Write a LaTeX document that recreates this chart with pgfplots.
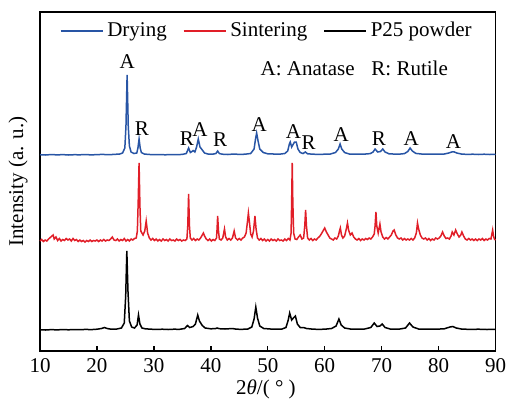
\documentclass[border=0pt]{standalone}
\usepackage{fontspec}
\setmainfont{Liberation Serif}
\usepackage{pgfplots}
\pgfplotsset{compat=1.18}
\definecolor{cblue}{RGB}{40,85,165}
\definecolor{cred}{RGB}{225,30,40}
\begin{document}
\fontsize{10.5}{12.6}\selectfont
\begin{tikzpicture}
\begin{axis}[
  scale only axis, width=227.75pt, height=169.5pt,
  xmin=10, xmax=90, ymin=0, ymax=339,
  xtick={10,20,...,90}, ytick=\empty,
  xtick pos=bottom, tick align=inside, major tick length=2.5pt,
  axis line style={line width=0.8pt}, every tick/.style={line width=0.7pt,black},
  /pgf/number format/assume math mode=true,
  xlabel={2\textit{θ}/( ° )},
  xlabel style={at={(axis description cs:0.496,-0.113)},anchor=center},
  ylabel={Intensity (a. u.)},
  ylabel style={at={(axis description cs:-0.048,0.5)},anchor=center},
  legend columns=3,
  legend style={draw=none, fill=none, at={(axis description cs:0.5,0.995)}, anchor=north,
     /tikz/every even column/.append style={column sep=6pt}},
  legend image code/.code={\draw[#1] (0pt,0pt) -- (21pt,0pt);},
  clip=false,
]
\addplot[cblue, line width=0.75pt] coordinates {(10,196.3)(11,196)(12,196.5)(13,196.1)(14,196.4)(15,196)(16,196.3)(17,196.2)(18,196.5)(19,196.1)(20,196.4)(21,196.6)(22,196.3)(23,196.6)(24,197)(24.5,198)(24.9,203)(25.1,225)(25.3,276)(25.5,225)(25.7,205)(26,199)(26.5,197.5)(27,198)(27.2,203)(27.4,212)(27.6,203)(27.8,198.5)(28.3,197)(29,196.6)(30,196.3)(31,196.5)(32,196.2)(33,196.5)(34,196.3)(35,196.6)(35.7,197.5)(36.1,203)(36.4,198.5)(36.7,199.5)(36.9,200.5)(37.2,199)(37.5,204)(37.8,212)(38.1,204)(38.5,201)(38.9,198)(39.5,197)(40.3,196.8)(40.9,197.5)(41.2,200)(41.5,197.5)(42,196.8)(43,196.5)(44,197)(45,196.6)(46,196.8)(47,197.5)(47.6,202)(47.85,212)(48.05,218)(48.3,210)(48.6,202)(49.2,198.5)(50,197.2)(51,197)(52,196.8)(53,197.5)(53.5,200)(53.8,207)(53.95,209)(54.2,204)(54.5,207)(54.7,209)(55.0,209)(55.3,202)(55.7,198.5)(56.2,197.5)(56.6,199)(57,197.2)(58,196.8)(59,196.6)(60,196.8)(61,197)(61.9,198.5)(62.4,202)(62.7,207)(63,202)(63.5,198.5)(64.3,197)(65,196.8)(66,196.8)(67,196.9)(68,197.4)(68.5,199)(68.85,202)(69.3,199)(69.8,199.5)(70.2,202)(70.6,199)(71.3,197.2)(72,197)(73,196.8)(74,197.4)(74.6,199.5)(75.0,203)(75.4,200)(76,197.6)(77,197)(78,196.8)(79,196.9)(80,196.8)(81,197)(81.8,198)(82.3,199)(82.7,199.2)(83.2,198)(84,197)(85,196.6)(86,196.8)(87,196.5)(88,196.8)(89,196.5)(90,196.6)};
\addlegendentry{Drying}
\addplot[cred, line width=0.75pt] coordinates {(10,110)(10.3,111.5)(10.6,109.5)(10.9,111)(11.2,110)(11.5,112)(11.8,113.5)(12.1,115)(12.3,116)(12.5,112)(12.8,114)(13.1,110.5)(13.4,112.5)(13.7,110)(14.0,111.5)(14.3,110.5)(14.6,112.5)(14.9,111)(15.2,112)(15.5,110)(15.8,112.5)(16.1,110.5)(16.4,111.5)(16.7,109.5)(17.0,111)(17.3,109.5)(17.6,110.5)(17.9,109)(18.2,110.5)(18.5,109.5)(18.8,111)(19.1,109.5)(19.4,110.5)(19.7,110)(20.0,111)(20.3,109.5)(20.6,111)(20.9,110)(21.2,111.5)(21.5,110)(21.8,111)(22.1,110.5)(22.4,112)(22.7,114)(23.0,111)(23.3,110.5)(23.6,112)(23.9,110)(24.2,111.5)(24.5,110.5)(24.8,112.5)(25.1,110)(25.4,111.5)(25.7,110)(26.0,112)(26.3,111)(26.6,112.5)(26.9,113)(27.1,120)(27.25,150)(27.4,188)(27.55,145)(27.7,120)(27.9,118)(28.1,116)(28.4,120)(28.65,130)(28.9,118)(29.2,113)(29.5,111)(29.8,112.5)(30.1,110.5)(30.4,112)(30.7,110)(31.0,111.5)(31.3,110)(31.6,112)(31.9,110.5)(32.2,111.5)(32.5,110)(32.8,112)(33.1,110.5)(33.4,111)(33.7,110)(34.0,112)(34.3,110.5)(34.6,111.5)(34.9,110)(35.2,111)(35.5,110.5)(35.8,112)(35.95,125)(36.1,157)(36.25,125)(36.4,113)(36.7,111)(37.0,112.5)(37.3,110.5)(37.6,112)(37.9,111)(38.2,113)(38.5,116)(38.7,118)(38.9,115)(39.2,112)(39.5,110.5)(39.8,112)(40.1,110)(40.4,111.5)(40.7,110.5)(41.0,113)(41.1,122)(41.2,135)(41.35,120)(41.5,112)(41.8,111)(42.1,113)(42.4,122)(42.6,114)(42.9,111)(43.2,112.5)(43.5,111)(43.8,113)(44.1,120)(44.35,113)(44.7,111)(45.0,112.5)(45.3,111)(45.6,113)(45.9,114)(46.2,118)(46.45,130)(46.6,138)(46.8,128)(47.0,117)(47.25,114)(47.5,120)(47.75,135)(47.95,122)(48.2,113)(48.5,111)(48.8,112.5)(49.1,110.5)(49.4,112)(49.7,110)(50.0,111.5)(50.3,110)(50.6,112)(50.9,110.5)(51.2,111.5)(51.5,110)(51.8,112)(52.1,110.5)(52.4,111)(52.7,110)(53.0,112)(53.3,110.5)(53.6,112.5)(53.9,111)(54.1,118)(54.2,150)(54.3,188)(54.4,150)(54.55,118)(54.8,112)(55.1,111.5)(55.4,114)(55.7,116)(56.0,112)(56.3,113)(56.5,125)(56.65,141)(56.8,125)(57.0,113)(57.3,111)(57.6,112.5)(57.9,110.5)(58.2,112)(58.5,111)(58.8,113)(59.1,114.5)(59.4,117)(59.7,120)(60.0,123)(60.3,119)(60.6,116)(60.9,113)(61.2,112)(61.5,111)(61.8,113)(62.1,112)(62.4,115)(62.6,120)(62.75,123)(62.95,116)(63.2,113)(63.5,115)(63.8,122)(64.0,128)(64.2,121)(64.5,116)(64.8,118)(65.1,114)(65.4,112)(65.7,111)(66.0,112.5)(66.3,110.5)(66.6,112)(66.9,111)(67.2,112.5)(67.5,111.5)(67.8,113)(68.1,112)(68.4,114)(68.7,117)(68.85,125)(69.0,139)(69.15,125)(69.4,118)(69.7,127)(69.9,119)(70.2,114)(70.5,112)(70.8,113.5)(71.1,112)(71.4,114)(71.7,116)(72.0,120)(72.2,121)(72.5,116)(72.8,113)(73.1,112)(73.4,113)(73.7,111)(74.0,112.5)(74.3,111)(74.6,112)(74.9,111)(75.2,112.5)(75.5,111)(75.8,113)(76.1,118)(76.3,128)(76.5,122)(76.8,116)(77.1,113)(77.4,112)(77.7,113)(78.0,111)(78.3,112.5)(78.6,110.5)(78.9,112)(79.2,111)(79.5,113)(79.8,112)(80.1,113)(80.4,115)(80.7,119)(81.0,115)(81.3,112.5)(81.6,113)(81.9,112)(82.2,115)(82.4,119)(82.7,116)(83.0,121)(83.3,117)(83.6,114)(83.9,116)(84.1,119)(84.4,115)(84.7,112)(85.0,111)(85.3,112.5)(85.6,111)(85.9,112)(86.2,110.5)(86.5,112)(86.8,110.5)(87.1,112)(87.4,111)(87.7,112.5)(88.0,110.5)(88.3,112)(88.6,111)(88.9,112.5)(89.2,112)(89.4,118)(89.5,121)(89.65,115)(89.8,112)(90,111)};
\addlegendentry{Sintering}
\addplot[black, line width=0.75pt] coordinates {(10,21.3)(11,21)(12,21.4)(13,21.1)(14,21.5)(15,21.2)(16,21.5)(17,21.3)(18,21.6)(19,21.4)(20,21.8)(20.8,22.5)(21.3,23.5)(21.8,22.5)(22.5,21.8)(23.5,22)(24.3,23)(24.8,28)(25.05,55)(25.25,100)(25.45,60)(25.7,30)(26.1,24)(26.6,23)(27.05,26)(27.3,36)(27.55,27)(27.9,23)(28.5,22.2)(29.5,21.8)(30.5,21.6)(31.5,21.8)(32.5,21.5)(33.5,21.8)(34.5,21.7)(35.4,22.5)(35.9,25.5)(36.3,23.5)(36.9,24.5)(37.3,27)(37.7,36)(38.0,30)(38.5,25.5)(39,23)(40,22.2)(40.8,22.4)(41.1,23)(41.5,22.3)(42.5,22)(43.8,22.5)(44.5,21.8)(45.5,21.7)(46.5,22)(47.2,24)(47.6,32)(47.9,44)(48.2,33)(48.6,25)(49.3,22.5)(50.5,22)(51.5,21.8)(52.5,22)(53.2,23.5)(53.6,31)(53.85,38)(54.2,31)(54.5,33)(54.85,35)(55.2,27)(55.7,23.5)(56.3,23.5)(56.8,22.5)(58,21.8)(59,21.7)(60,21.8)(61.2,22.5)(62,25)(62.5,32)(62.9,26)(63.5,23)(64.5,22)(66,21.8)(67,22)(68.1,23.5)(68.7,28)(69.2,24.5)(69.7,25)(70.1,27)(70.6,23.5)(71.5,22)(73,21.8)(74.2,23)(74.9,28)(75.5,24)(76.5,22)(78,21.8)(79.5,21.8)(81,22.2)(82,24)(82.5,24.5)(83.1,23)(84,22)(85.5,21.6)(87,21.8)(88.5,21.5)(90,21.7)};
\addlegendentry{P25 powder}
\node at (axis cs:25.3,289) {A};
\node at (axis cs:27.9,222.7) {R};
\node at (axis cs:35.8,212.7) {R};
\node at (axis cs:38.1,221) {A};
\node at (axis cs:41.65,211) {R};
\node at (axis cs:48.5,226) {A};
\node at (axis cs:54.5,219.3) {A};
\node at (axis cs:57.2,208.3) {R};
\node at (axis cs:62.9,216) {A};
\node at (axis cs:69.5,212) {R};
\node at (axis cs:75.2,212) {A};
\node at (axis cs:82.6,209.3) {A};
\node at (axis cs:65.2,283) {A: Anatase\hspace{0.8em}R: Rutile};
\end{axis}
\pgfresetboundingbox
\path (-20pt,-26pt) rectangle (233.5pt,175.5pt);
\end{tikzpicture}
\end{document}
